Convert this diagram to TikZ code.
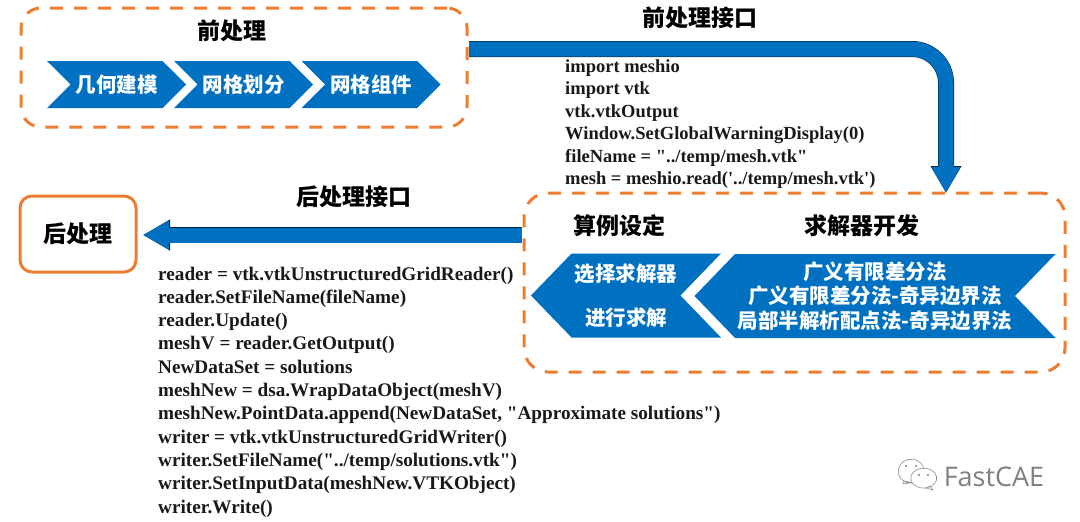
\documentclass[tikz,border=0pt]{standalone}
\usepackage{fontspec}
\newfontfamily\cjk{Noto Sans CJK SC}
\newfontfamily\codefont{Liberation Serif}
\newfontfamily\markfont{Open Sans}
\usetikzlibrary{arrows.meta,shapes.symbols}
\definecolor{flowblue}{HTML}{0070C0}
\definecolor{boxorange}{HTML}{ED7D31}
\tikzset{
  dashbox/.style={draw=boxorange,line width=3pt,dash pattern=on 13pt off 11pt,rounded corners=20pt,inner sep=0pt},
  headtxt/.style={font=\cjk\bfseries\fontsize{23}{26}\selectfont,black},
  rightsig/.style={shape=signal,signal to=east,signal from=west,signal pointer angle=90,fill=flowblue,text=white,
    font=\cjk\bfseries\fontsize{20.5}{24}\selectfont,minimum width=139pt,minimum height=47pt,inner sep=0pt},
  leftsig/.style={shape=signal,signal to=west,signal from=east,signal pointer angle=92,fill=flowblue,text=white,
    font=\cjk\bfseries\fontsize{20.5}{24.5}\selectfont,minimum height=84pt,inner sep=0pt,align=center},
  codetxt/.style={font=\codefont\bfseries\fontsize{18.5}{22.5}\selectfont,align=left,inner sep=0pt,text=black!90},
  bigarrow/.style={draw=flowblue,line width=15pt,
    -{Triangle[length=26pt,width=27pt,fill=flowblue,color=flowblue]},
    preaction={draw=black!70!flowblue,line width=16pt,-{Triangle[length=27pt,width=29pt]}}},
}
\begin{document}
\begin{tikzpicture}[x=1pt,y=-1pt]
\useasboundingbox (0,0) rectangle (1080,522);
% pre-processing
\node[dashbox,minimum width=446pt,minimum height=119pt] (prebox) at (244,67.5) {};
\node[headtxt] (pretitle) at (232,31) {前处理};
\node[rightsig] (geom) at (116.5,84.5) {几何建模};
\node[rightsig] (mesh) at (243.5,84.5) {网格划分};
\node[rightsig] (comp) at (371,84.5) {网格组件};
% solver
\node[dashbox,rounded corners=24pt,minimum width=541pt,minimum height=179pt] (solvebox) at (794.5,282.5) {};
\node[headtxt] (casetitle) at (619,226) {算例设定};
\node[headtxt] (solvetitle) at (862,226) {求解器开发};
\node[leftsig,minimum width=190pt] (casesig) at (626,295.5) {选择求解器\\[20pt]进行求解};
\node[leftsig,minimum width=361pt] (solvesig) at (875,296) {广义有限差分法\\广义有限差分法-奇异边界法\\局部半解析配点法-奇异边界法};
% post-processing
\node[draw=boxorange,line width=3pt,rounded corners=12pt,minimum width=116pt,minimum height=76pt,font=\cjk\bfseries\fontsize{23}{26}\selectfont] (post) at (78,234) {\raisebox{1.5pt}{后处理}};
% interfaces
\coordinate (preout) at (469,49);
\coordinate (solvein) at (946,193);
\coordinate (solveout) at (522,235);
\coordinate (postin) at (143,235);
\draw[bigarrow,rounded corners=34pt] (preout) -| (solvein);
\draw[bigarrow] (solveout) -- (postin);
\node[headtxt] (prelabel) at (700,18) {前处理接口};
\node[headtxt] (postlabel) at (354,197) {后处理接口};
\node[codetxt,anchor=north west] (precode) at (565,59) {import meshio\\
import vtk\\
vtk.vtkOutput\\
Window.SetGlobalWarningDisplay(0)\\
fileName = "../temp/mesh.vtk"\\
mesh = meshio.read('../temp/mesh.vtk')};
\node[codetxt,font=\codefont\bfseries\fontsize{19.2}{23.3}\selectfont,anchor=north west] (postcode) at (158,266.5) {reader = vtk.vtkUnstructuredGridReader()\\
reader.SetFileName(fileName)\\
reader.Update()\\
meshV = reader.GetOutput()\\
NewDataSet = solutions\\
meshNew = dsa.WrapDataObject(meshV)\\
meshNew.PointData.append(NewDataSet, "Approximate solutions")\\
writer = vtk.vtkUnstructuredGridWriter()\\
writer.SetFileName("../temp/solutions.vtk")\\
writer.SetInputData(meshNew.VTKObject)\\
writer.Write()};
% watermark
\draw[black!45,fill=white,line width=.6pt] (904,481) -- (903,484) -- (909,483) arc[start angle=100,end angle=-280,x radius=13,y radius=12] -- cycle;
\draw[black!45,fill=white,line width=.6pt] (930,486) -- (933,490) -- (926,488) arc[start angle=80,end angle=440,x radius=13,y radius=10] -- cycle;
\foreach \ex/\ey in {906/466,916/466,919/475,928/475} {
  \fill[black!50] (\ex,\ey) circle (1.1pt);
}
\node[font=\markfont\fontsize{27}{30}\selectfont,text=black!50,inner sep=0pt] (mark) at (994,477) {FastCAE};
\end{tikzpicture}
\end{document}
